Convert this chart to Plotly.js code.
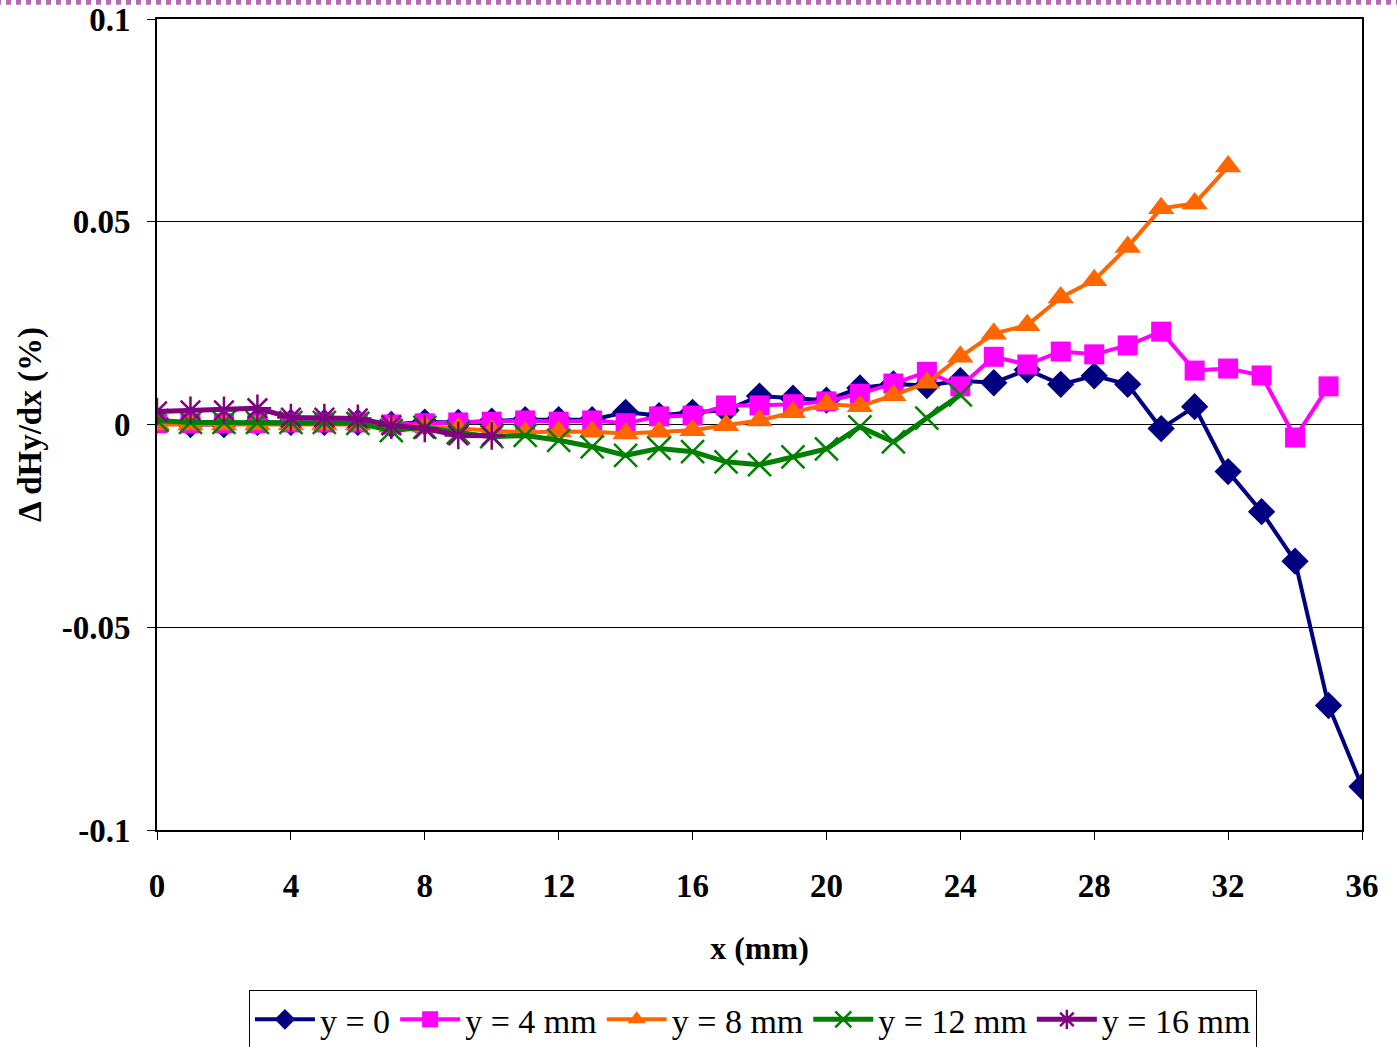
<!DOCTYPE html>
<html>
<head>
<meta charset="utf-8">
<script src="https://cdn.plot.ly/plotly-3.0.1.min.js"></script>
<style>
  html, body { margin: 0; padding: 0; background: #ffffff; }
  #chart { width: 1397px; height: 1047px; }
</style>
</head>
<body>
<div id="chart"></div>
<script>
// x positions (mm)
const x_y0  = [0,1,2,3,4,5,6,7,8,9,10,11,12,13,14,15,16,17,18,19,20,21,22,23,24,25,26,27,28,29,30,31,32,33,34,35,36];
const x_y4  = [0,1,2,3,4,5,6,7,8,9,10,11,12,13,14,15,16,17,18,19,20,21,22,23,24,25,26,27,28,29,30,31,32,33,34,35];
const x_y8  = [0,1,2,3,4,5,6,7,8,9,10,11,12,13,14,15,16,17,18,19,20,21,22,23,24,25,26,27,28,29,30,31,32];
const x_y12 = [0,1,2,3,4,5,6,7,8,9,10,11,12,13,14,15,16,17,18,19,20,21,22,23,24];
const x_y16 = [0,1,2,3,4,5,6,7,8,9,10];

// Δ dHy/dx (%) values
const v_y0 = [0.001,0.0,0.0,0.0005,0.0005,0.0005,0.0005,0.0,0.0006,0.0005,0.0008,0.0012,0.0012,0.0012,0.003,0.0022,0.003,0.0035,0.007,0.0065,0.006,0.009,0.010,0.0096,0.0108,0.0103,0.0135,0.0099,0.012,0.0099,-0.001,0.0044,-0.0116,-0.0215,-0.0337,-0.0693,-0.0893];
const v_y4 = [0.0003,0.0003,0.0003,0.0003,0.0005,0.0005,0.0005,0.0,0.0003,0.0005,0.0007,0.001,0.0007,0.001,0.0003,0.002,0.0022,0.0047,0.0047,0.005,0.0057,0.0076,0.0101,0.013,0.0094,0.0167,0.0148,0.018,0.0173,0.0195,0.0229,0.0133,0.0138,0.0121,-0.0032,0.0094];
const v_y8 = [0.0,0.0,0.0,0.0,0.0,0.0,0.0,-0.0005,-0.0005,-0.001,-0.0015,-0.002,-0.0017,-0.0018,-0.0022,-0.0018,-0.0014,-0.0002,0.001,0.003,0.005,0.0045,0.0072,0.0103,0.0167,0.0224,0.0245,0.0313,0.0356,0.0438,0.0533,0.0545,0.0636];
const v_y12 = [0.001,0.0005,0.0005,0.0005,0.0005,0.0005,0.0003,-0.0015,-0.0007,-0.002,-0.003,-0.0027,-0.0039,-0.0055,-0.0076,-0.0059,-0.0067,-0.0092,-0.0099,-0.008,-0.006,-0.0006,-0.0043,0.0016,0.0073];
const v_y16 = [0.0032,0.0035,0.0035,0.004,0.0017,0.0017,0.0015,-0.0002,-0.001,-0.0027,-0.0028];

const seriesNames = ['y = 0', 'y = 4 mm', 'y = 8 mm', 'y = 12 mm', 'y = 16 mm'];

const xTickVals = [0,4,8,12,16,20,24,28,32,36];
const yTickVals = [0.1,0.05,0,-0.05,-0.1];
const yTickText = ['0.1','0.05','0','-0.05','-0.1'];

const serif = 'Liberation Serif, Times New Roman, serif';

const traces = [
  {x: x_y0, y: v_y0, name: seriesNames[0], mode: 'lines+markers', type: 'scatter',
   line: {color: '#000080', width: 4}, marker: {symbol: 'diamond', size: 21, color: '#000080'}},
  {x: x_y4, y: v_y4, name: seriesNames[1], mode: 'lines+markers', type: 'scatter',
   line: {color: '#FF00FF', width: 4}, marker: {symbol: 'square', size: 20, color: '#FF00FF'}},
  {x: x_y8, y: v_y8, name: seriesNames[2], mode: 'lines+markers', type: 'scatter',
   line: {color: '#FF6600', width: 4}, marker: {symbol: 'triangle-up', size: 23, color: '#FF6600'}},
  {x: x_y12, y: v_y12, name: seriesNames[3], mode: 'lines+markers', type: 'scatter',
   line: {color: '#008000', width: 5}, marker: {symbol: 'x-thin-open', size: 23, color: '#008000', line: {width: 2.5, color: '#008000'}}},
  {x: x_y16, y: v_y16, name: seriesNames[4], mode: 'lines+markers', type: 'scatter',
   line: {color: '#800080', width: 5}, marker: {symbol: 'asterisk-open', size: 23, color: '#800080', line: {width: 2.5, color: '#800080'}}}
];

const layout = {
  width: 1397, height: 1047,
  margin: {l: 157, r: 35, t: 19, b: 217, autoexpand: false},
  paper_bgcolor: '#ffffff', plot_bgcolor: '#ffffff',
  showlegend: true,
  legend: {
    orientation: 'h', x: 0.0763, xanchor: 'left', y: -0.197, yanchor: 'top',
    bordercolor: '#000000', borderwidth: 1, bgcolor: '#ffffff',
    font: {family: serif, size: 34, color: '#000000'},
    itemwidth: 60, tracegroupgap: 0
  },
  xaxis: {
    range: [0, 36], tickvals: xTickVals, ticks: 'outside', ticklen: 8, tickcolor: '#000',
    ticklabelstandoff: 17, automargin: false,
    showgrid: false, zeroline: false, showline: true, linecolor: '#000', linewidth: 2, mirror: true,
    tickfont: {family: serif, size: 33, color: '#000', weight: 'bold'},
    title: {text: '<b>x (mm)</b>', font: {family: serif, size: 32, color: '#000'}, standoff: 34}
  },
  yaxis: {
    range: [-0.1, 0.1], tickvals: yTickVals, ticktext: yTickText, ticks: 'outside', ticklen: 8, tickcolor: '#000',
    ticklabelstandoff: 10, automargin: false,
    showgrid: true, gridcolor: '#000', gridwidth: 1, zeroline: false,
    showline: true, linecolor: '#000', linewidth: 2, mirror: true,
    tickfont: {family: serif, size: 33, color: '#000', weight: 'bold'},
    title: {text: '<b>Δ dHy/dx (%)</b>', font: {family: serif, size: 33, color: '#000'}, standoff: 10}
  },
  shapes: [
    {type: 'line', xref: 'paper', yref: 'paper', x0: -0.2, x1: 1.1, y0: 1.0205, y1: 1.0205,
     line: {color: '#B36BB3', width: 5, dash: 'dot'}}
  ]
};

Plotly.newPlot('chart', traces, layout, {displayModeBar: false, staticPlot: true});
</script>
</body>
</html>
